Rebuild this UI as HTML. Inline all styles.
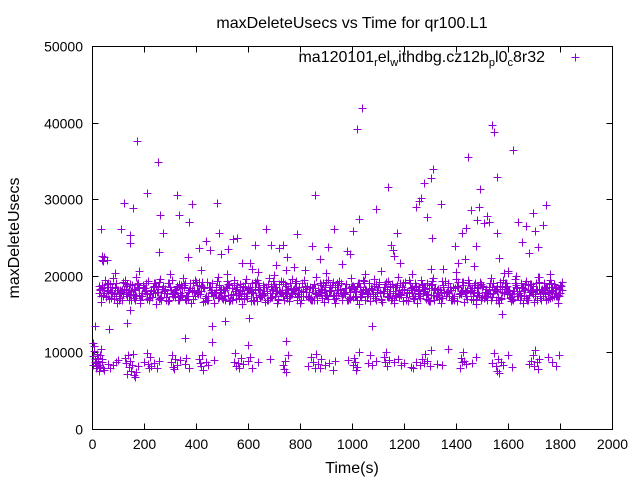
<!DOCTYPE html>
<html><head><meta charset="utf-8"><style>
body{margin:0;background:#fff}
svg{display:block;font-family:"Liberation Sans",sans-serif}
</style></head><body>
<svg id="chart" width="640" height="480" viewBox="0 0 640 480" xmlns="http://www.w3.org/2000/svg">
<rect width="640" height="480" fill="#fff"/>
<text x="352" y="28" font-size="16" text-anchor="middle">maxDeleteUsecs vs Time for qr100.L1</text>
<text transform="translate(19,238) rotate(-90)" font-size="16" text-anchor="middle">maxDeleteUsecs</text>
<text x="352" y="473" font-size="16" text-anchor="middle">Time(s)</text>
<g id="axes"></g>
<g id="marks"></g>
<g>
<text x="545" y="62" font-size="16" text-anchor="end">ma120101<tspan font-size="11" dy="4">r</tspan><tspan dy="-4">el</tspan><tspan font-size="11" dy="4">w</tspan><tspan dy="-4">ithdbg.cz12b</tspan><tspan font-size="11" dy="4">p</tspan><tspan dy="-4">l0</tspan><tspan font-size="11" dy="4">c</tspan><tspan dy="-4">8r32</tspan></text>
<path d="M571.5 57.5h8M575.5 53.5v8" stroke="#9400d3" stroke-width="1"/>
</g>
</svg>
<script>
const xTicks=[0,200,400,600,800,1000,1200,1400,1600,1800,2000];
const yTicks=[0,10000,20000,30000,40000,50000];
const bandA=[17.8,18.4,17.2,18.9,17.6,18.1,16.9,18.7,17.5,18.3,19.1,17.4,18.0,17.1,18.6,17.9,16.8,18.2,19.0,17.3,
18.5,17.7,18.8,17.0,18.1,19.2,17.6,18.4,16.9,17.9,18.6,17.2,18.3,19.3,17.5,18.0,17.1,18.7,17.8,16.7,
18.2,19.0,17.4,18.5,17.7,18.9,17.0,18.1,17.6,19.1,18.3,17.2,16.9,18.6,17.9,18.4,17.3,18.8,17.5,18.0,
19.2,17.1,18.2,17.8,16.8,18.7,17.4,18.5,19.0,17.6,18.1,17.3,18.9,17.7,18.3,16.9,18.6,17.2,19.1,17.9,
18.4,17.0,18.0,18.8,17.5,16.7,18.2,17.8,19.3,17.4,18.5,17.1,18.7,17.6,18.1,19.0,17.3,18.4,16.9,17.9,
18.6,17.2,18.3,19.2,17.7,18.0,17.0,18.8,17.5,18.2,16.8,18.9,17.6,18.1,17.4,18.5,19.1,17.8,18.3];
const bandB=[18.2,17.5,18.9,17.1,18.6,17.8,19.2,17.3,18.0,16.8,18.4,17.7,19.0,17.2,18.7,17.9,18.3,16.9,18.5,17.6,
17.4,18.8,17.0,18.2,19.1,17.7,18.0,16.7,18.6,17.3,19.3,17.9,18.1,17.5,18.4,17.0,18.9,17.6,18.3,19.0,
17.2,18.5,17.8,16.9,18.7,17.4,18.0,19.2,17.1,18.4,17.7,18.2,19.0,17.3,18.6,16.8,17.9,18.3,17.5,18.8,
17.0,18.1,19.1,17.6,18.4,17.2,18.7,17.9,16.9,18.2,17.4,18.9,17.8,18.0,19.3,17.1,18.5,17.6,18.3,16.7,
18.6,17.3,18.1,17.8,19.0,17.5,18.4,17.0,18.8,17.7,18.2,16.9,18.5,19.2,17.4,18.0,17.9,18.6,17.2,18.3,
17.6,19.1,18.0,17.1,18.7,17.8,16.8,18.4,17.3,18.9,17.5,18.1,19.0,17.7,18.2,17.0,18.6,17.4,18.8];
const bandC=[17.3,18.6,18.0,17.7,19.0,17.1,18.3,17.9,18.8,17.4,16.9,18.5,17.6,18.2,19.1,17.0,18.7,17.8,18.1,17.2,
18.9,17.5,16.8,18.4,17.9,18.0,19.2,17.3,18.6,17.7,17.1,18.3,16.9,18.8,17.6,18.5,17.4,19.0,18.2,17.8,
16.7,18.1,17.5,18.9,17.2,18.6,17.9,16.9,18.3,17.6,19.3,17.4,18.0,18.7,17.1,18.4,17.8,19.1,17.3,18.2,
18.5,17.7,16.8,18.9,17.0,18.3,19.0,17.6,18.1,17.4,18.7,17.9,16.9,18.5,17.2,18.0,18.8,17.5,19.2,17.8,
17.1,18.6,17.7,18.3,16.8,18.9,17.4,18.1,17.9,19.0,17.3,18.4,17.6,18.8,17.0,18.2,19.1,17.5,18.7,17.8,
16.9,18.3,17.2,18.6,19.0,17.7,18.0,17.4,18.5,17.1,18.9,17.6,18.2,16.8,18.4,17.9,18.1,17.3,18.7];
const bandD=[16.6,19.5,17.0,19.7,16.4,18.0,19.4,16.8,17.6,19.8,16.5,18.4,19.3,17.2,16.3,19.6,17.8,16.7,19.4,18.2,
16.9,19.7,17.4,16.5,19.5,18.0,16.6,19.2,17.7,16.4,19.8,17.1,18.5,16.8,19.4,17.5,16.3,19.6,18.3,16.9,
19.5,17.3,16.6,19.7,18.1,16.5,19.3,17.8,16.7,19.6,18.4,16.4,19.4,17.2,16.8,19.8,17.9,16.6,19.5,18.2,
16.5,19.3,17.6,16.9,19.7,18.0,16.3,19.4,17.4,16.7,19.6,18.5,16.6,19.2,17.7,16.4,19.8,18.1,16.8,19.5,
17.3,16.5,19.4,18.3,16.7,19.7,17.5,16.4,19.3,18.0,16.9,19.6,17.8,16.6,19.5,18.4,16.3,19.2,17.1,16.8,
19.7,18.2,16.5,19.4,17.6,16.7,19.6,18.0,16.4,19.3,17.9,16.6,19.8,18.3,16.9,19.5,17.4,16.5,19.2];
const bandStartTime=25, bandStepTime=15;
const lowX=[2,5,8,10,12,14,16,18,20,22,24,26,28,30,32,35,38,4,40,44,48,62,70,80,92,100,
128,132,136,140,143,146,150,153,156,160,165,170,175,200,210,214,218,222,226,240,250,256,
305,308,312,316,320,325,340,356,362,372,412,416,420,424,428,438,448,470,
545,550,555,560,565,572,580,600,608,615,640,683,736,740,744,748,752,
830,842,850,856,862,868,875,880,895,910,925,935,985,1002,1006,1010,1015,1020,1025,
1062,1070,1078,1092,1122,1126,1130,1135,1142,1160,1175,1190,1200,
1226,1235,1248,1260,1270,1276,1282,1290,1300,1305,1325,1345,1368,
1414,1418,1422,1426,1430,1440,1460,1475,1540,1548,1552,1556,1560,1565,1572,1580,1600,1615,
1680,1688,1695,1700,1705,1710,1715,1720,1755,1770,1785,1795,
10,64,135,146,460,462,510,603,357,746,599,1076,1575,6];
const lowY=[9.5,8.3,10.2,8.8,9.1,7.9,8.6,9.8,8.2,9.3,8.9,7.6,8.4,9.6,8.1,10.5,8.7,11.2,9.2,8.0,7.7,8.5,7.9,8.3,8.8,9.0,
9.3,8.6,7.2,9.6,8.1,8.9,7.6,8.4,9.8,7.0,6.8,7.4,8.2,8.8,9.9,8.5,7.9,9.4,8.2,8.6,7.9,8.9,
8.7,9.6,8.1,7.8,9.1,8.4,9.0,8.5,9.3,8.0,9.2,8.6,8.2,9.6,7.7,8.8,8.3,9.0,
8.8,9.9,8.2,8.6,7.9,9.3,8.5,8.9,9.4,8.0,8.7,9.2,8.4,7.8,8.9,7.5,9.6,
8.2,9.4,8.7,8.0,9.8,8.5,7.9,9.1,8.3,8.6,7.7,8.9,9.0,8.4,9.3,8.8,7.7,8.1,10.0,
8.6,9.7,8.3,8.9,9.4,8.7,10.1,8.2,9.0,8.8,9.1,8.4,8.6,
8.1,7.9,8.7,8.3,9.2,8.6,9.8,8.9,8.2,10.3,8.5,8.4,10.5,
8.0,9.3,8.7,10.0,8.9,8.5,8.6,9.4,8.6,9.9,8.2,7.6,9.1,7.3,8.8,8.4,9.6,8.1,
8.5,8.9,9.6,8.2,10.3,8.7,7.8,9.2,9.4,8.8,8.2,9.6,
13.4,13.0,13.9,15.6,13.5,11.3,14.1,14.5,11.9,11.5,11.0,13.4,15.0,10.9];
const highX=[36,172,252,213,123,159,262,273,113,146,146,256,38,40,42,46,58,325,336,374,386,482,490,368,412,438,452,496,524,544,558,578,608,617,628,670,690,706,718,733,750,746,775,790,846,856,877,909,932,960,982,992,1002,1028,1020,1040,1092,1140,1149,1157,1162,1173,1183,1248,1258,1265,1277,1290,1302,1313,1308,1304,1343,1398,1407,1435,1423,1440,1446,1458,1477,1470,1490,1492,1480,1506,1521,1526,1539,1546,1556,1559,1567,1585,1599,1619,1638,1652,1670,1682,1697,1705,1715,1736,1745,1719,1629,
90,180,300,420,520,640,700,820,900,1050,1110,1230,1350,1400,1600,1760];
const highY=[26.05,37.6,34.8,30.75,29.5,28.8,27.9,25.6,26.1,25.3,24.3,23.06,22.6,22.1,21.9,22.4,22.0,30.5,28.0,27.0,29.4,29.5,25.6,22.5,23.6,24.55,23.34,22.9,23.56,24.78,24.9,21.73,21.73,20.95,24.08,26.05,24.08,21.4,23.6,24.08,22.5,20.7,21.17,25.45,23.95,30.5,22.25,23.7,26.05,21.53,23.25,22.9,25.85,27.4,39.2,41.9,28.7,31.55,24.0,23.34,22.64,25.6,21.73,28.97,29.78,30.15,32.07,27.66,32.8,33.9,24.9,20.95,29.37,23.95,21.73,22.25,25.6,26.2,35.46,28.6,23.88,21.34,28.97,31.3,27.25,26.84,27.84,27.03,39.74,38.75,25.6,32.9,22.38,20.35,20.63,36.4,26.97,24.41,26.5,22.97,28.15,25.85,23.75,26.57,29.28,19.9,20.03,
20.4,20.6,20.2,20.8,20.3,20.5,20.1,20.7,20.4,20.2,20.6,20.3,20.9,20.5,20.4,20.2];

const X0=92,X1=612,Y0=429,Y1=46;
const sx=v=>X0+(v-0)/2000*(X1-X0);
const sy=v=>Y0-(v-0)/50000*(Y0-Y1);
const NS="http://www.w3.org/2000/svg";
const axes=document.getElementById('axes');
const marks=document.getElementById('marks');
function mk(tag,attrs,parent){const e=document.createElementNS(NS,tag);for(const k in attrs)e.setAttribute(k,attrs[k]);parent.appendChild(e);return e;}
const frame=mk('rect',{x:X0+.5,y:Y1+.5,width:X1-X0,height:Y0-Y1,fill:'none',stroke:'#000','stroke-width':1},axes);


xTicks.forEach(t=>{
  const x=Math.round(sx(t))+.5;
  const tk=mk('path',{d:`M${x} ${Y0+.5}v-6M${x} ${Y1+.5}v6`,stroke:'#000'},axes);
  
  
  const lb=mk('text',{x:x,y:Y0+20,'font-size':14,'text-anchor':'middle'},axes);
  lb.textContent=t;
  
  
});
yTicks.forEach(t=>{
  const y=Math.round(sy(t))+.5;
  const tk=mk('path',{d:`M${X0+.5} ${y}h6M${X1+.5} ${y}h-6`,stroke:'#000'},axes);
  
  
  const lb=mk('text',{x:X0-9,y:y+5,'font-size':14,'text-anchor':'end'},axes);
  lb.textContent=t;
  
  
});
let d='';
function cross(t,v){const x=Math.round(sx(t))+.5,y=Math.round(sy(v))+.5;d+=`M${x-4} ${y}h8M${x} ${y-4}v8`;}
[[bandA,0],[bandB,4],[bandC,8],[bandD,11]].forEach(([arr,off])=>arr.forEach((v,i)=>cross(bandStartTime+off+i*bandStepTime,v*1000)));
[[bandA,6],[bandB,13],[bandC,2]].forEach(([arr,off])=>arr.slice().reverse().forEach((v,i)=>cross(bandStartTime+off+i*bandStepTime,v*1000)));
lowX.forEach((t,i)=>cross(t,lowY[i]*1000));
highX.forEach((t,i)=>cross(t,highY[i]*1000));
const p=mk('path',{d:d,stroke:'#9400d3','stroke-width':1,fill:'none'},marks);


</script>
</body></html>
